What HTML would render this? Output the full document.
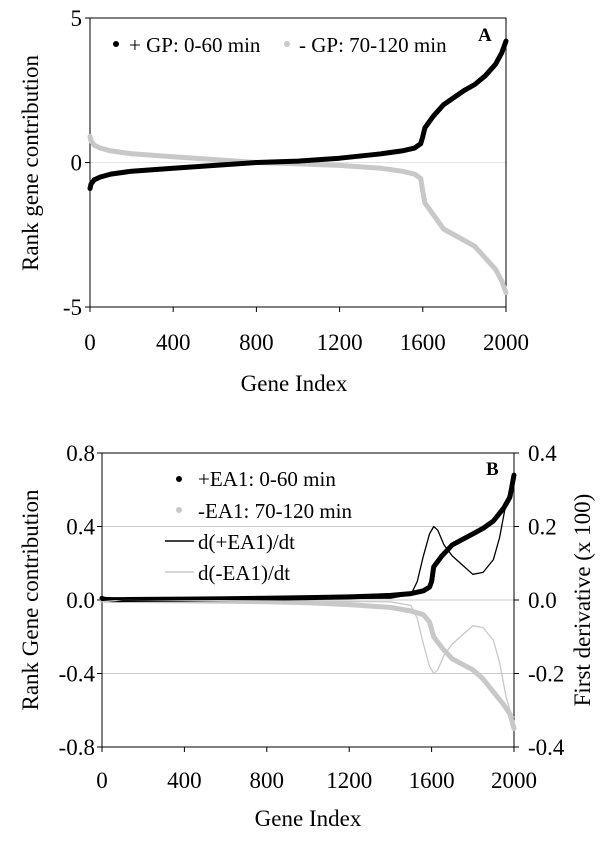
<!DOCTYPE html>
<html><head><meta charset="utf-8"><style>
body{margin:0;background:#fff}
svg text{font-family:"Liberation Serif",serif;fill:#000}
</style></head><body>
<svg id="c" width="600" height="845" viewBox="0 0 600 845" xmlns="http://www.w3.org/2000/svg"></svg>
<script>
// Panel A data
const xA = [0,5,20,50,100,200,400,600,800,1000,1200,1400,1500,1560,1590,1600,1610,1650,1700,1800,1850,1900,1950,1980,2000];
const posA = [-0.9,-0.75,-0.6,-0.5,-0.4,-0.3,-0.2,-0.1,0,0.05,0.15,0.3,0.4,0.5,0.65,0.9,1.2,1.6,2,2.5,2.7,3,3.4,3.8,4.2];
const negA = [0.9,0.75,0.6,0.5,0.4,0.3,0.2,0.1,0,-0.05,-0.1,-0.2,-0.3,-0.4,-0.55,-1.0,-1.4,-1.8,-2.3,-2.7,-2.9,-3.3,-3.7,-4.1,-4.5];
const yTicksA = [5,0,-5];
const xTicks = [0,400,800,1200,1600,2000];
// Panel B data
const posB = [0.01,0.005,0.003,0.002,0.002,0.003,0.005,0.007,0.01,0.013,0.017,0.025,0.035,0.05,0.07,0.1,0.18,0.24,0.3,0.36,0.39,0.43,0.5,0.56,0.68];
const negB = [0,0,-0.001,-0.002,-0.002,-0.003,-0.005,-0.007,-0.01,-0.015,-0.025,-0.04,-0.06,-0.08,-0.12,-0.16,-0.2,-0.26,-0.32,-0.38,-0.43,-0.5,-0.57,-0.62,-0.7];
const xD = [0,100,1400,1500,1530,1560,1590,1610,1630,1660,1700,1750,1800,1850,1900,1930,1960,1980,2000];
const dPos = [0.005,0,0.005,0.015,0.05,0.12,0.18,0.2,0.19,0.15,0.12,0.095,0.07,0.075,0.11,0.17,0.26,0.3,0.32];
const dNeg = [-0.005,0,-0.005,-0.015,-0.05,-0.12,-0.18,-0.2,-0.19,-0.15,-0.12,-0.095,-0.07,-0.075,-0.11,-0.17,-0.26,-0.3,-0.32];
const yTicksB = [0.8,0.4,0,-0.4,-0.8];
const yTicksBR = [0.4,0.2,0,-0.2,-0.4];

const NS="http://www.w3.org/2000/svg", svg=document.getElementById('c');
function el(t,a,txt){const e=document.createElementNS(NS,t);for(const k in a)e.setAttribute(k,a[k]);if(txt!==undefined)e.textContent=txt;svg.appendChild(e);return e;}
function pts(xs,ys,sx,sy){return xs.map((x,i)=>sx(x).toFixed(1)+','+sy(ys[i]).toFixed(1)).join(' ');}

// ---- Panel A
const axA={l:90,r:506,t:18,b:307};
const sxA=v=>axA.l+(v/2000)*(axA.r-axA.l);
const syA=v=>axA.t+(5-v)/10*(axA.b-axA.t);
let e;
e=el('line',{x1:axA.l,x2:axA.r,y1:syA(0),y2:syA(0),stroke:'#e4e4e4','stroke-width':1});

e=el('rect',{x:axA.l,y:axA.t,width:axA.r-axA.l,height:axA.b-axA.t,fill:'none',stroke:'#000','stroke-width':1});

yTicksA.forEach(v=>{
 e=el('line',{x1:axA.l-5,x2:axA.l,y1:syA(v),y2:syA(v),stroke:'#000'});
 
 e=el('text',{x:axA.l-8,y:syA(v)+8,'text-anchor':'end','font-size':23},String(v));
 
});
xTicks.forEach(v=>{
 e=el('line',{x1:sxA(v),x2:sxA(v),y1:axA.b,y2:axA.b+5,stroke:'#000'});
 
 e=el('text',{x:sxA(v),y:350,'text-anchor':'middle','font-size':23},String(v));
 
});
e=el('polyline',{points:pts(xA,negA,sxA,syA),fill:'none',stroke:'#c8c8c8','stroke-width':5,'stroke-linecap':'round','stroke-linejoin':'round'});

e=el('polyline',{points:pts(xA,posA,sxA,syA),fill:'none',stroke:'#000','stroke-width':5,'stroke-linecap':'round','stroke-linejoin':'round'});

e=el('text',{x:294,y:391,'text-anchor':'middle','font-size':23},'Gene Index');

e=el('text',{x:0,y:0,'text-anchor':'middle','font-size':23,transform:'translate(38,163) rotate(-90)'},'Rank gene contribution');

e=el('circle',{cx:116,cy:44,r:3,fill:'#000'});

e=el('text',{x:129,y:52,'font-size':21},'+ GP: 0-60 min');

e=el('circle',{cx:287,cy:44,r:3,fill:'#c8c8c8'});

e=el('text',{x:299,y:52,'font-size':21},'- GP: 70-120 min');

e=el('text',{x:478,y:41,'font-size':19,'font-weight':'bold'},'A');


// ---- Panel B
const axB={l:102,r:514,t:453,b:747};
const sxB=v=>axB.l+(v/2000)*(axB.r-axB.l);
const syB=v=>axB.t+(0.8-v)/1.6*(axB.b-axB.t);
const syR=v=>axB.t+(0.4-v)/0.8*(axB.b-axB.t);
[0.4,0,-0.4].forEach(v=>{
 e=el('line',{x1:axB.l,x2:axB.r,y1:syB(v),y2:syB(v),stroke:'#c8c8c8','stroke-width':1});
 
});
e=el('rect',{x:axB.l,y:axB.t,width:axB.r-axB.l,height:axB.b-axB.t,fill:'none',stroke:'#000','stroke-width':1});

yTicksB.forEach(v=>{
 e=el('line',{x1:axB.l-5,x2:axB.l,y1:syB(v),y2:syB(v),stroke:'#000'});
 
 e=el('text',{x:axB.l-7,y:syB(v)+8,'text-anchor':'end','font-size':23},v.toFixed(1));
 
});
yTicksBR.forEach(v=>{
 e=el('line',{x1:axB.r,x2:axB.r+5,y1:syR(v),y2:syR(v),stroke:'#000'});
 
 e=el('text',{x:axB.r+14,y:syR(v)+8,'font-size':23},v.toFixed(1));
 
});
xTicks.forEach(v=>{
 e=el('line',{x1:sxB(v),x2:sxB(v),y1:axB.b,y2:axB.b+5,stroke:'#000'});
 
 e=el('text',{x:sxB(v),y:788,'text-anchor':'middle','font-size':23},String(v));
 
});
e=el('polyline',{points:pts(xA,negB,sxB,syB),fill:'none',stroke:'#c8c8c8','stroke-width':5,'stroke-linecap':'round','stroke-linejoin':'round'});

e=el('polyline',{points:pts(xA,posB,sxB,syB),fill:'none',stroke:'#000','stroke-width':5,'stroke-linecap':'round','stroke-linejoin':'round'});

e=el('polyline',{points:pts(xD,dNeg,sxB,syR),fill:'none',stroke:'#c8c8c8','stroke-width':1.3,'stroke-linejoin':'round'});

e=el('polyline',{points:pts(xD,dPos,sxB,syR),fill:'none',stroke:'#000','stroke-width':1.3,'stroke-linejoin':'round'});

e=el('text',{x:308,y:826,'text-anchor':'middle','font-size':23},'Gene Index');

e=el('text',{x:0,y:0,'text-anchor':'middle','font-size':23,transform:'translate(38,600) rotate(-90)'},'Rank Gene contribution');

e=el('text',{x:0,y:0,'text-anchor':'middle','font-size':23,transform:'translate(590,600) rotate(-90)'},'First derivative (x 100)');

e=el('circle',{cx:179,cy:479,r:3,fill:'#000'});

e=el('text',{x:198,y:486,'font-size':21},'+EA1: 0-60 min');

e=el('circle',{cx:179,cy:510,r:3,fill:'#c8c8c8'});

e=el('text',{x:198,y:518,'font-size':21},'-EA1: 70-120 min');

e=el('line',{x1:165,x2:194,y1:541,y2:541,stroke:'#000','stroke-width':1.5});

e=el('text',{x:198,y:549,'font-size':21},'d(+EA1)/dt');

e=el('line',{x1:165,x2:194,y1:572,y2:572,stroke:'#c8c8c8','stroke-width':1.5});

e=el('text',{x:198,y:580,'font-size':21},'d(-EA1)/dt');

e=el('text',{x:486,y:475,'font-size':19,'font-weight':'bold'},'B');

</script>
</body></html>
